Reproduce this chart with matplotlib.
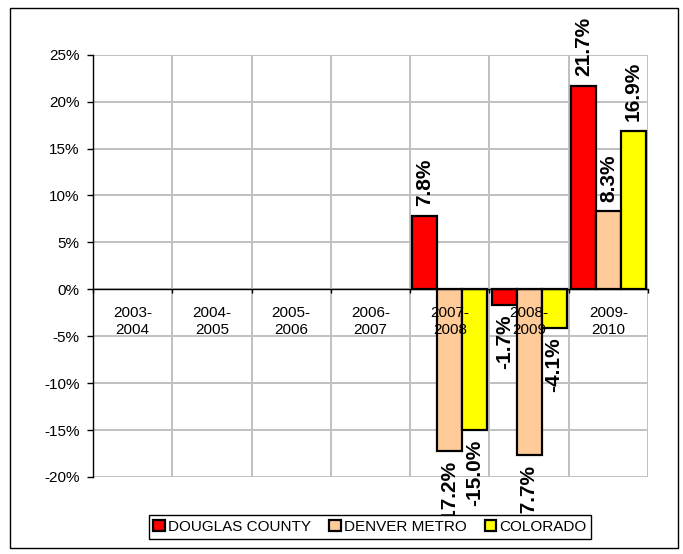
import matplotlib
matplotlib.use('Agg')
import matplotlib.pyplot as plt
import matplotlib.patches as mpatches
import numpy as np

plt.rcParams['font.family'] = ['Liberation Sans', 'DejaVu Sans']

# data
years = ['2003-\n2004', '2004-\n2005', '2005-\n2006', '2006-\n2007',
         '2007-\n2008', '2008-\n2009', '2009-\n2010']
douglas = [np.nan, np.nan, np.nan, np.nan, 7.8, -1.7, 21.7]
denver = [np.nan, np.nan, np.nan, np.nan, -17.2, -17.7, 8.3]
colorado = [np.nan, np.nan, np.nan, np.nan, -15.0, -4.1, 16.9]
series_names = ['DOUGLAS COUNTY', 'DENVER METRO', 'COLORADO']
colors = ['#FF0000', '#FFCC99', '#FFFF00']

fig = plt.figure(figsize=(6.83, 5.54), dpi=100)
ax = fig.add_axes([0.1362, 0.139, 0.8126, 0.7623])

x = np.arange(len(years))
w = 0.315
handles = []
for k, (vals, col, name) in enumerate(zip([douglas, denver, colorado], colors, series_names)):
    vals = np.array(vals, dtype=float)
    ok = ~np.isnan(vals)
    xs = x[ok] + (k - 1) * w
    b = ax.bar(xs, vals[ok], width=w, color=col, edgecolor='black', linewidth=1.6, zorder=3)
    handles.append(b)
    for xi, v in zip(xs, vals[ok]):
        off = 7 if v >= 0 else -7
        ax.annotate(f'{v:.1f}%', xy=(xi, v), xytext=(0, off), textcoords='offset points',
                    rotation=90, ha='center', va='bottom' if v >= 0 else 'top',
                    fontsize=15, fontweight='bold', zorder=4)

ax.set_xlim(-0.5, len(years) - 0.5)
ax.set_ylim(-20, 25)
ax.set_yticks(np.arange(-20, 26, 5))
ax.set_yticklabels([f'{t}%' for t in range(-20, 26, 5)], fontsize=11)
ax.set_xticks(np.arange(-0.5, len(years), 1.0))
ax.set_xticklabels([])
ax.grid(True, color='#c0c0c0', linewidth=1.4, zorder=0)
ax.set_axisbelow(True)

ax.spines['top'].set_visible(False)
ax.spines['right'].set_visible(False)
ax.spines['bottom'].set_position(('data', 0))
ax.spines['bottom'].set_zorder(5)
ax.spines['left'].set_linewidth(1)
ax.spines['bottom'].set_linewidth(1)
ax.tick_params(axis='y', direction='out', length=4.3, width=1, pad=5.5)
ax.tick_params(axis='x', direction='out', length=3, width=1)

# category names sit under the zero line, drawn over the bars
for i, lab in enumerate(years):
    ax.annotate(lab, xy=(i, 0), xytext=(0, -12), textcoords='offset points',
                ha='center', va='top', fontsize=11, linespacing=1.25, zorder=6)

leg = fig.legend(handles, series_names, loc='center', bbox_to_anchor=(370 / 683, 1 - 527 / 554),
                 ncol=3, fontsize=11, frameon=True, fancybox=False, framealpha=1,
                 edgecolor='black', handlelength=0.75, handleheight=0.75, handletextpad=0.2,
                 columnspacing=1.2, borderpad=0.3, borderaxespad=0)
leg.get_frame().set_linewidth(1)

fig.patches.append(mpatches.Rectangle((10 / 683, 6 / 554), 668 / 683, 540 / 554,
                                      transform=fig.transFigure, fill=False,
                                      edgecolor='black', linewidth=1))

fig.savefig('out.png', dpi=100)
